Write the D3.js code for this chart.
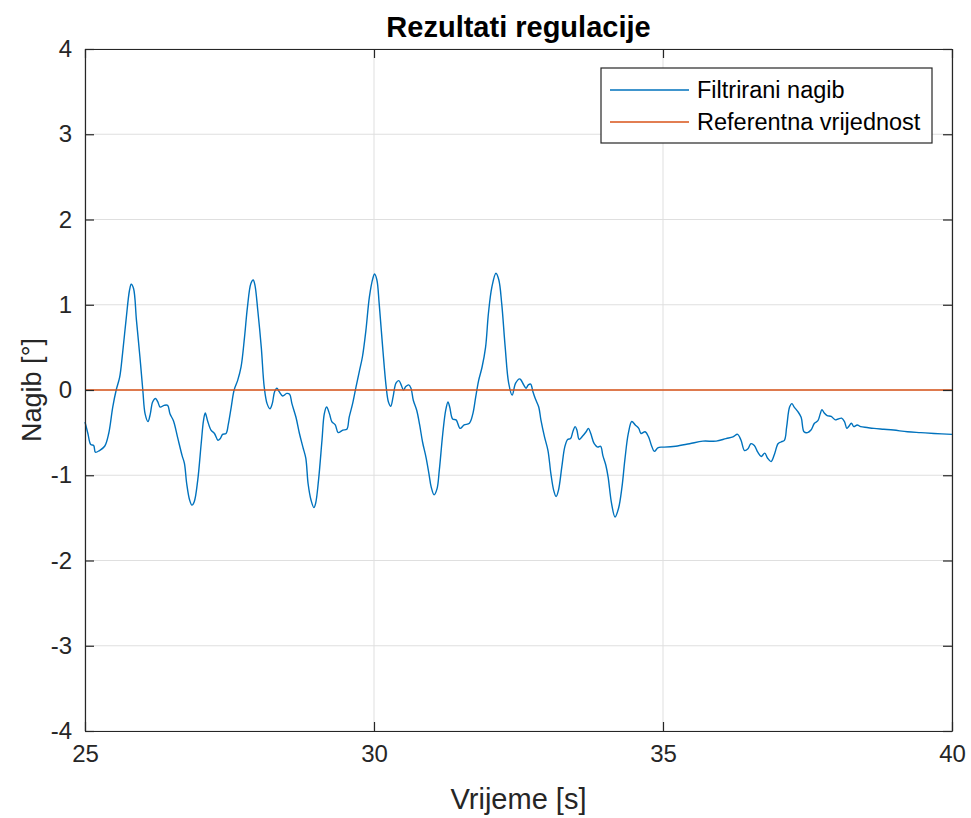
<!DOCTYPE html>
<html>
<head>
<meta charset="utf-8">
<script src="https://cdn.jsdelivr.net/npm/d3@7"></script>
<style>
  body { margin: 0; background: #fff; }
  svg { display: block; font-family: "Liberation Sans", Arial, sans-serif; }
</style>
</head>
<body>
<div id="chart"></div>
<script>
// figure size and axes box
const width = 971;
const height = 818;
const margin = { top: 49, right: 19, bottom: 87, left: 85 };
const innerWidth = width - margin.left - margin.right;
const innerHeight = height - margin.top - margin.bottom;

// chart texts
const title = 'Rezultati regulacije';
const xLabel = 'Vrijeme [s]';
const yLabel = 'Nagib [°]';
const seriesNames = ['Filtrirani nagib', 'Referentna vrijednost'];
const seriesColors = ['#0072BD', '#D95319'];

// ticks
const xTicks = [25, 30, 35, 40];
const yTicks = [-4, -3, -2, -1, 0, 1, 2, 3, 4];

// filtered tilt
const time = [
  25.00, 25.05, 25.10, 25.15, 25.18, 25.25, 25.34, 25.41, 25.48, 25.54,
  25.60, 25.65, 25.71, 25.77, 25.80, 25.84, 25.89, 25.95, 26.00, 26.04,
  26.09, 26.13, 26.17, 26.22, 26.26, 26.30, 26.37, 26.43, 26.47, 26.53,
  26.60, 26.68, 26.72, 26.76, 26.81, 26.85, 26.89, 26.95, 27.01, 27.05,
  27.08, 27.12, 27.18, 27.24, 27.30, 27.34, 27.38, 27.44, 27.48, 27.53,
  27.58, 27.64, 27.70, 27.76, 27.81, 27.87, 27.91, 27.94, 27.99, 28.05,
  28.10, 28.15, 28.20, 28.24, 28.28, 28.32, 28.36, 28.42, 28.49, 28.54,
  28.58, 28.65, 28.71, 28.77, 28.82, 28.86, 28.91, 28.96, 28.99, 29.04,
  29.10, 29.14, 29.18, 29.23, 29.27, 29.33, 29.38, 29.46, 29.53, 29.57,
  29.63, 29.69, 29.75, 29.80, 29.86, 29.92, 29.98, 30.01, 30.05, 30.09,
  30.15, 30.21, 30.25, 30.29, 30.33, 30.38, 30.43, 30.47, 30.51, 30.55,
  30.60, 30.64, 30.68, 30.74, 30.79, 30.84, 30.90, 30.95, 30.99, 31.04,
  31.09, 31.13, 31.19, 31.24, 31.28, 31.31, 31.36, 31.42, 31.49, 31.56,
  31.65, 31.71, 31.76, 31.81, 31.87, 31.93, 31.98, 32.04, 32.11, 32.16,
  32.21, 32.27, 32.33, 32.39, 32.45, 32.52, 32.54, 32.59, 32.63, 32.67,
  32.71, 32.75, 32.79, 32.85, 32.89, 32.95, 33.01, 33.06, 33.11, 33.15,
  33.19, 33.25, 33.30, 33.35, 33.40, 33.44, 33.48, 33.51, 33.55, 33.61,
  33.67, 33.71, 33.75, 33.81, 33.87, 33.92, 33.96, 34.01, 34.05, 34.11,
  34.17, 34.23, 34.29, 34.34, 34.40, 34.46, 34.52, 34.58, 34.62, 34.69,
  34.75, 34.80, 34.85, 34.91, 34.97, 35.02, 35.22, 35.46, 35.69, 35.92,
  36.09, 36.21, 36.29, 36.35, 36.41, 36.47, 36.52, 36.58, 36.64, 36.70,
  36.76, 36.81, 36.87, 36.93, 36.99, 37.04, 37.10, 37.14, 37.19, 37.23,
  37.27, 37.33, 37.39, 37.44, 37.50, 37.56, 37.62, 37.68, 37.72, 37.75,
  37.79, 37.84, 37.91, 37.98, 38.03, 38.09, 38.14, 38.18, 38.21, 38.26,
  38.30, 38.36, 38.42, 38.53, 38.65, 38.82, 38.99, 39.23, 39.46, 39.69,
  40.00
];
const nagib = [
  -0.375, -0.51, -0.64, -0.65, -0.73, -0.71, -0.66, -0.51, -0.20, 0.00,
  0.15, 0.43, 0.82, 1.17, 1.24, 1.19, 0.82, 0.39, 0.00, -0.28,
  -0.37, -0.28, -0.14, -0.10, -0.14, -0.20, -0.18, -0.18, -0.28, -0.36,
  -0.55, -0.77, -0.86, -1.10, -1.29, -1.35, -1.31, -1.06, -0.63, -0.36,
  -0.27, -0.36, -0.47, -0.51, -0.59, -0.57, -0.52, -0.51, -0.40, -0.20,
  0.00, 0.11, 0.27, 0.62, 0.97, 1.25, 1.29, 1.23, 0.93, 0.50,
  0.04, -0.16, -0.22, -0.16, -0.02, 0.02, -0.02, -0.07, -0.04, -0.05,
  -0.16, -0.32, -0.51, -0.67, -0.80, -1.10, -1.29, -1.38, -1.33, -1.06,
  -0.59, -0.28, -0.20, -0.28, -0.37, -0.41, -0.50, -0.47, -0.46, -0.32,
  -0.16, 0.04, 0.23, 0.39, 0.70, 1.09, 1.31, 1.36, 1.29, 1.01,
  0.50, 0.04, -0.14, -0.19, -0.08, 0.08, 0.11, 0.06, 0.00, 0.04,
  0.06, 0.02, -0.12, -0.24, -0.41, -0.61, -0.79, -0.98, -1.14, -1.23,
  -1.16, -0.94, -0.51, -0.24, -0.14, -0.20, -0.34, -0.35, -0.45, -0.41,
  -0.39, -0.28, -0.08, 0.11, 0.27, 0.50, 0.90, 1.21, 1.37, 1.29,
  1.01, 0.50, 0.08, -0.06, 0.08, 0.13, 0.12, 0.06, 0.02, 0.06,
  0.07, -0.02, -0.10, -0.20, -0.36, -0.55, -0.71, -0.98, -1.18, -1.25,
  -1.18, -0.90, -0.67, -0.58, -0.57, -0.49, -0.43, -0.47, -0.58, -0.54,
  -0.49, -0.45, -0.51, -0.63, -0.67, -0.66, -0.77, -0.88, -1.02, -1.33,
  -1.49, -1.39, -1.14, -0.82, -0.51, -0.37, -0.41, -0.45, -0.51, -0.49,
  -0.55, -0.65, -0.72, -0.68, -0.67, -0.67, -0.66, -0.63, -0.60, -0.60,
  -0.57, -0.55, -0.52, -0.59, -0.71, -0.69, -0.63, -0.65, -0.73, -0.78,
  -0.74, -0.80, -0.84, -0.75, -0.63, -0.61, -0.59, -0.43, -0.20, -0.16,
  -0.20, -0.25, -0.32, -0.49, -0.50, -0.47, -0.39, -0.36, -0.28, -0.23,
  -0.27, -0.30, -0.31, -0.35, -0.34, -0.33, -0.37, -0.45, -0.43, -0.39,
  -0.43, -0.41, -0.43, -0.44, -0.45, -0.46, -0.47, -0.49, -0.50, -0.51,
  -0.52
];

// reference value
const refTime = [25, 40];
const refValue = [0, 0];

const svg = d3.select('#chart')
  .append('svg')
  .attr('width', width)
  .attr('height', height);

svg.append('rect')
  .attr('width', width)
  .attr('height', height)
  .attr('fill', '#fff');

const g = svg.append('g')
  .attr('transform', `translate(${margin.left}, ${margin.top})`);

const xScale = d3.scaleLinear()
  .domain([25, 40])
  .range([0, innerWidth]);

const yScale = d3.scaleLinear()
  .domain([-4, 4])
  .range([innerHeight, 0]);

// grid
const gridG = g.append('g');
gridG.selectAll('.vgrid')
  .data(xTicks)
  .enter()
  .append('line')
    .attr('x1', d => xScale(d))
    .attr('x2', d => xScale(d))
    .attr('y1', 0)
    .attr('y2', innerHeight)
    .attr('stroke', '#dfdfdf')
    .attr('stroke-width', 1);

gridG.selectAll('.hgrid')
  .data(yTicks)
  .enter()
  .append('line')
    .attr('x1', 0)
    .attr('x2', innerWidth)
    .attr('y1', d => yScale(d))
    .attr('y2', d => yScale(d))
    .attr('stroke', '#dfdfdf')
    .attr('stroke-width', 1);

// lines
const line = d3.line()
  .x(d => xScale(d[0]))
  .y(d => yScale(d[1]))
  .curve(d3.curveCatmullRom.alpha(0.5));

g.append('path')
  .datum(d3.zip(time, nagib))
  .attr('fill', 'none')
  .attr('stroke', seriesColors[0])
  .attr('stroke-width', 1.4)
  .attr('stroke-linejoin', 'round')
  .attr('d', line);

g.append('path')
  .datum(d3.zip(refTime, refValue))
  .attr('fill', 'none')
  .attr('stroke', seriesColors[1])
  .attr('stroke-width', 1.4)
  .attr('d', line);

// axes (ticks inside, box on all sides)
const axisColor = '#262626';
const tickSize = 9;

const xAxisBottom = d3.axisBottom(xScale).tickValues(xTicks).tickSizeInner(-tickSize).tickSizeOuter(0).tickPadding(14);
const xAxisTop = d3.axisTop(xScale).tickValues(xTicks).tickSizeInner(-tickSize).tickSizeOuter(0);
const yAxisLeft = d3.axisLeft(yScale).tickValues(yTicks).tickSizeInner(-tickSize).tickSizeOuter(0).tickPadding(13);
const yAxisRight = d3.axisRight(yScale).tickValues(yTicks).tickSizeInner(-tickSize).tickSizeOuter(0);

function styleAxis(sel) {
  sel.select('.domain').attr('stroke', axisColor).attr('stroke-width', 1.2);
  sel.selectAll('.tick line').attr('stroke', axisColor).attr('stroke-width', 1.2);
  sel.selectAll('.tick text')
    .attr('fill', axisColor)
    .style('font-size', '24px')
    .style('font-family', '"Liberation Sans", Arial, sans-serif');
}

// top and right axes only carry tick marks
function dropLabels(sel) {
  sel.selectAll('.tick text').remove();
}

g.append('g').attr('transform', `translate(0, ${innerHeight})`).call(xAxisBottom).call(styleAxis);
g.append('g').call(xAxisTop).call(styleAxis).call(dropLabels);
g.append('g').call(yAxisLeft).call(styleAxis);
g.append('g').attr('transform', `translate(${innerWidth}, 0)`).call(yAxisRight).call(styleAxis).call(dropLabels);

// MATLAB shows a plain hyphen for negative ticks
g.selectAll('.tick text').text(function() { return d3.select(this).text().replace('−', '-'); });

// title and axis labels
svg.append('text')
  .attr('x', margin.left + innerWidth / 2)
  .attr('y', 37)
  .attr('text-anchor', 'middle')
  .attr('fill', '#000')
  .style('font-size', '29px')
  .style('font-weight', 'bold')
  .text(title);

svg.append('text')
  .attr('x', margin.left + innerWidth / 2)
  .attr('y', 809)
  .attr('text-anchor', 'middle')
  .attr('fill', axisColor)
  .style('font-size', '29px')
  .text(xLabel);

svg.append('text')
  .attr('transform', `translate(41, ${margin.top + innerHeight / 2}) rotate(-90)`)
  .attr('text-anchor', 'middle')
  .attr('fill', axisColor)
  .style('font-size', '27px')
  .text(yLabel);

// legend
const legendG = svg.append('g')
  .attr('transform', 'translate(601, 68)');

legendG.append('rect')
  .attr('width', 331)
  .attr('height', 75)
  .attr('fill', '#fff')
  .attr('stroke', axisColor)
  .attr('stroke-width', 1.2);

const legendItems = legendG.selectAll('.legend-item')
  .data(seriesNames)
  .enter()
  .append('g')
    .attr('transform', (d, i) => `translate(0, ${22 + i * 32})`);

legendItems.append('line')
  .attr('x1', 9)
  .attr('x2', 88)
  .attr('stroke', (d, i) => seriesColors[i])
  .attr('stroke-width', 1.4);

legendItems.append('text')
  .attr('x', 96)
  .attr('y', 8)
  .attr('fill', '#000')
  .style('font-size', '23.5px')
  .text(d => d);
</script>
</body>
</html>
